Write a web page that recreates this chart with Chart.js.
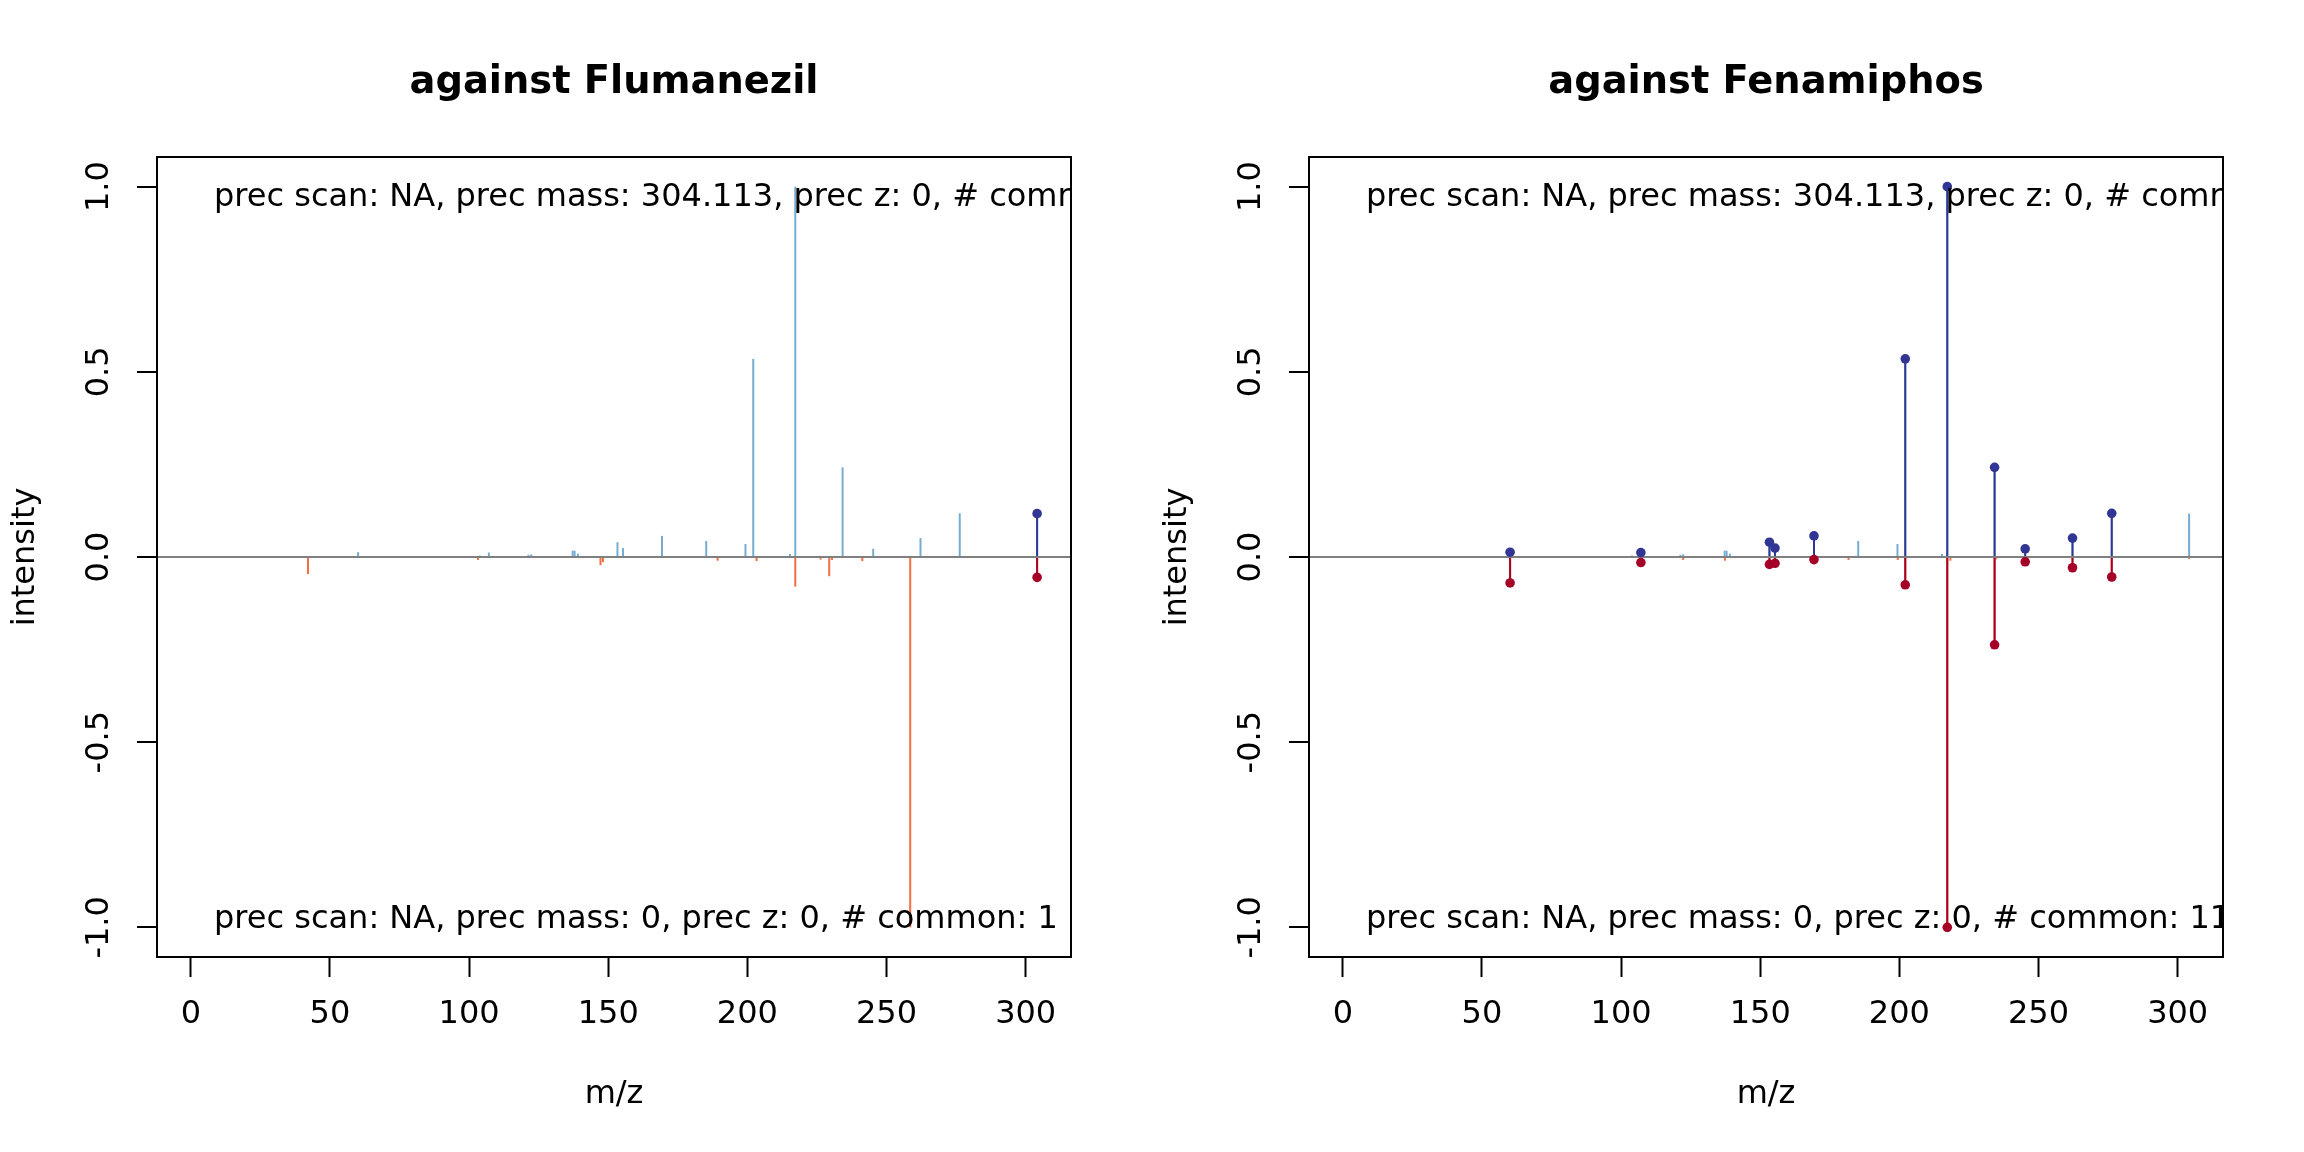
<!DOCTYPE html>
<html><head><meta charset="utf-8">
<script src="https://cdn.jsdelivr.net/npm/chart.js@4.4.1/dist/chart.umd.min.js"></script>
<style>
html,body{margin:0;padding:0;background:#fff;}
#wrap{position:relative;width:2304px;height:1152px;background:#fff;}
canvas{position:absolute;top:0;}
</style></head><body>
<div id="wrap">
<canvas id="c1" width="1152" height="1152" style="left:0"></canvas>
<canvas id="c2" width="1152" height="1152" style="left:1152px"></canvas>
</div>
<script>
// ---- axis ticks / limits ----
const xTicks = [0, 50, 100, 150, 200, 250, 300];
const yTicks = [-1, -0.5, 0, 0.5, 1];
const xLimits = [-12.16, 316.28];
const yLimits = [-1.08, 1.08];

// ---- query spectrum (top, precursor 304.113) ----
const queryMz  = [60.1, 103.8, 107.1, 121.3, 122.3, 137.2, 137.9, 139.1, 153.3, 155.3, 169.3, 184.3, 185.2, 199.3, 202.1, 215.3, 217.2, 218.7, 234.2, 245.2, 262.2, 276.3, 304.1];
const queryInt = [0.013, 0.004, 0.012, 0.006, 0.007, 0.017, 0.017, 0.009, 0.040, 0.024, 0.057, 0.003, 0.043, 0.035, 0.535, 0.008, 1.0, 0.003, 0.242, 0.022, 0.051, 0.118, 0.117];

// ---- library spectrum: Flumanezil (bottom, left panel) ----
const fluMz  = [42.1, 103.2, 147.2, 148.1, 189.3, 203.3, 217.2, 226.3, 229.4, 230.4, 241.3, 258.5, 304.1];
const fluInt = [0.046, 0.008, 0.022, 0.014, 0.010, 0.011, 0.080, 0.007, 0.052, 0.008, 0.011, 1.0, 0.055];
const fluMatchedMz = [304.1];

// ---- library spectrum: Fenamiphos (bottom, right panel) ----
const fenMz  = [60.1, 107.1, 122.3, 137.3, 153.3, 155.3, 169.3, 181.7, 199.4, 202.1, 217.2, 218.3, 234.2, 234.8, 245.2, 262.2, 276.3, 304.1];
const fenInt = [0.070, 0.015, 0.008, 0.010, 0.020, 0.017, 0.007, 0.008, 0.008, 0.075, 1.0, 0.010, 0.237, 0.006, 0.013, 0.029, 0.054, 0.005];
const fenMatchedMz = [60.1, 107.1, 153.3, 155.3, 169.3, 202.1, 217.2, 234.2, 245.2, 262.2, 276.3];

// ---- texts ----
const panelTitles = ['against Flumanezil', 'against Fenamiphos'];
const topTexts = ['prec scan: NA, prec mass: 304.113, prec z: 0, # common: 1',
                  'prec scan: NA, prec mass: 304.113, prec z: 0, # common: 11'];
const bottomTexts = ['prec scan: NA, prec mass: 0, prec z: 0, # common: 1',
                     'prec scan: NA, prec mass: 0, prec z: 0, # common: 11'];

// ---- colours ----
const LIGHT_BLUE = '#74ADD1', ORANGE = '#F46D43', DARK_BLUE = '#313695', DARK_RED = '#A50026';

Chart.defaults.font.family = '"DejaVu Sans", sans-serif';
Chart.defaults.font.size = 32;
Chart.defaults.color = '#000';

const framePlugin = {
  id: 'frame',
  afterDatasetsDraw(chart, args, opts) {
    const {ctx, chartArea: a} = chart;
    ctx.save();
    ctx.beginPath();
    ctx.rect(a.left, a.top, a.right - a.left, a.bottom - a.top);
    ctx.clip();
    ctx.font = '32px "DejaVu Sans"';
    ctx.fillStyle = '#000';
    ctx.textAlign = 'left';
    ctx.textBaseline = 'alphabetic';
    ctx.fillText(opts.top, a.left + 57, a.top + 49);
    ctx.fillText(opts.bottom, a.left + 57, a.bottom - 29);
    ctx.restore();
  },
  afterDraw(chart, args, opts) {
    const {ctx, chartArea: a} = chart;
    ctx.save();
    ctx.strokeStyle = '#000';
    ctx.lineWidth = 2;
    ctx.strokeRect(a.left, a.top, a.right - a.left, a.bottom - a.top);
    ctx.font = 'bold 38.4px "DejaVu Sans"';
    ctx.fillStyle = '#000';
    ctx.textAlign = 'center';
    ctx.textBaseline = 'alphabetic';
    ctx.fillText(opts.title, (a.left + a.right) / 2, 93);
    ctx.restore();
  }
};

function stems(mz, inten, sign) {
  return mz.map((m, i) => ({x: m, y: sign * inten[i]}));
}
function matched(mzList, mz, inten, sign) {
  return mzList.map(m => ({x: m, y: sign * inten[mz.indexOf(m)]}));
}
function barDs(data, color, order) {
  return {type: 'bar', data, backgroundColor: color, borderWidth: 0, barThickness: 2,
          barPercentage: 1, categoryPercentage: 1, grouped: false, inflateAmount: 0, order};
}
function ptDs(data, color) {
  return {type: 'scatter', data, backgroundColor: color, borderColor: color, borderWidth: 0,
          pointRadius: 4.8, pointHoverRadius: 4.8, order: 0};
}

function makeChart(id, libMz, libInt, matchedMz, idx) {
  new Chart(document.getElementById(id), {
    type: 'bar',
    data: {
      datasets: [
        ptDs(matched(matchedMz, queryMz, queryInt, 1), DARK_BLUE),
        ptDs(matched(matchedMz, libMz, libInt, -1), DARK_RED),
        barDs(matched(matchedMz, queryMz, queryInt, 1), DARK_BLUE, 1),
        barDs(matched(matchedMz, libMz, libInt, -1), DARK_RED, 1),
        barDs(stems(queryMz, queryInt, 1), LIGHT_BLUE, 2),
        barDs(stems(libMz, libInt, -1), ORANGE, 2)
      ]
    },
    options: {
      responsive: false,
      animation: false,
      devicePixelRatio: 1,
      events: [],
      layout: {padding: {top: 157, right: 81, bottom: 0, left: 0}},
      plugins: {
        legend: {display: false},
        tooltip: {enabled: false},
        title: {display: false},
        frame: {title: panelTitles[idx], top: topTexts[idx], bottom: bottomTexts[idx]}
      },
      scales: {
        x: {
          type: 'linear', position: 'bottom', offset: false,
          min: xLimits[0], max: xLimits[1],
          afterFit: s => { s.height = 195; },
          afterBuildTicks: s => { s.ticks = xTicks.map(v => ({value: v})); },
          ticks: {padding: 18, color: '#000', font: {size: 32}, maxRotation: 0, minRotation: 0,
                  autoSkip: false, callback: v => String(v)},
          grid: {offset: false, drawOnChartArea: false, drawTicks: true, tickLength: 20,
                 tickColor: '#000', tickWidth: 2},
          border: {display: false},
          title: {display: true, text: 'm/z', color: '#000', font: {size: 32},
                  padding: {top: 0, bottom: 38}}
        },
        y: {
          type: 'linear', position: 'left',
          min: yLimits[0], max: yLimits[1],
          afterFit: s => { s.width = 157; },
          afterBuildTicks: s => { s.ticks = yTicks.map(v => ({value: v})); },
          ticks: {padding: 6, color: '#000', font: {size: 32}, minRotation: 90, maxRotation: 90,
                  crossAlign: 'center', autoSkip: false, callback: v => v.toFixed(1)},
          grid: {drawOnChartArea: true, drawTicks: true, tickLength: 20, tickColor: '#000', tickWidth: 2,
                 lineWidth: 2,
                 color: c => (c.tick && c.tick.value === 0) ? '#808080' : 'rgba(0,0,0,0)'},
          border: {display: false},
          title: {display: true, text: 'intensity', color: '#000', font: {size: 32},
                  padding: {top: 6, bottom: 0}}
        }
      }
    },
    plugins: [framePlugin]
  });
}

makeChart('c1', fluMz, fluInt, fluMatchedMz, 0);
makeChart('c2', fenMz, fenInt, fenMatchedMz, 1);
</script>
</body></html>
